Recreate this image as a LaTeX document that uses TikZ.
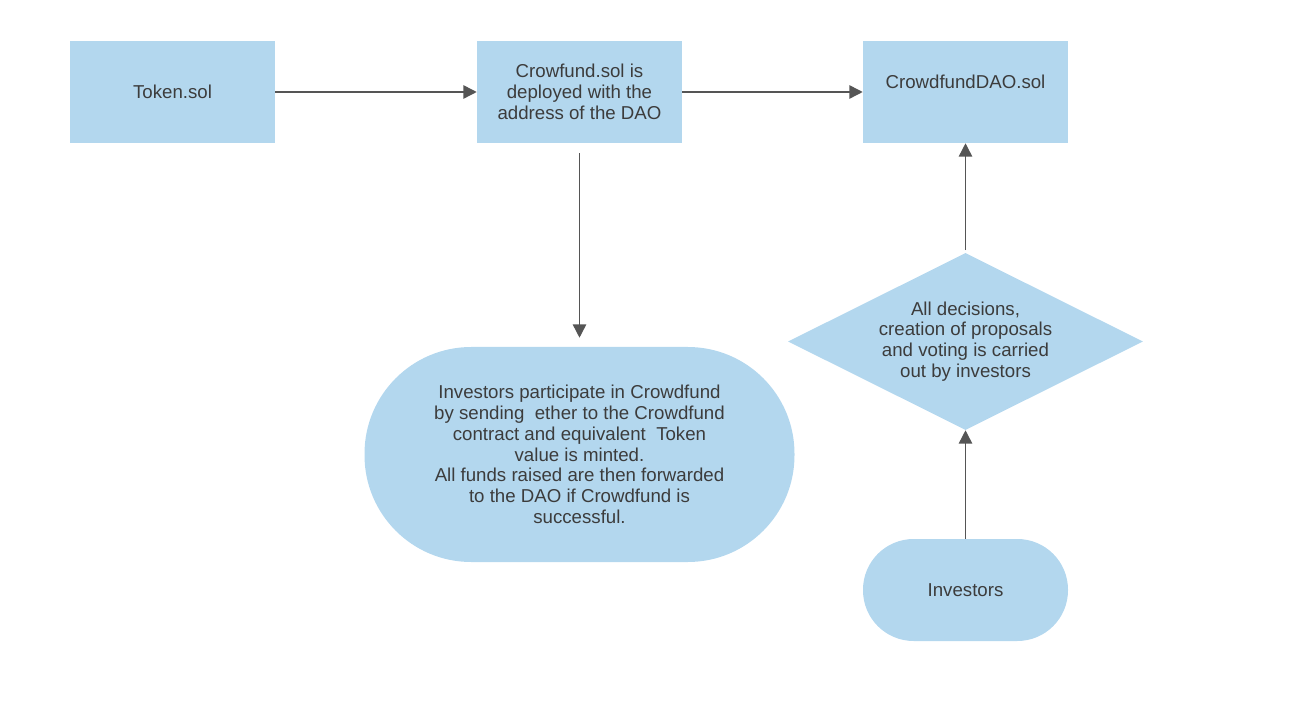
\documentclass[tikz,border=0pt]{standalone}
\usepackage{fontspec}
\setmainfont{Liberation Sans}
\usetikzlibrary{shapes.geometric,arrows.meta}
\definecolor{boxfill}{HTML}{B3D7EE}
\definecolor{txt}{HTML}{3C3C3C}
\definecolor{arr}{HTML}{555555}
\begin{document}
\begin{tikzpicture}[x=0.75pt,y=-0.75pt,
  every node/.style={font=\fontsize{14}{15.6}\selectfont, text=txt},
  box/.style={rectangle, fill=boxfill, minimum width=153.75pt, minimum height=76.5pt, inner sep=0pt, align=center},
  pill/.style={rectangle, fill=boxfill, align=center, inner sep=0pt},
  conn/.style={draw=arr, line width=1.1pt, -{Triangle[length=10pt,width=10pt]}}]
\useasboundingbox (0,0) rectangle (1293,709);
\node[box] (tok) at (172.5,92) {Token.sol};
\node[box] (crow) at (579.5,92) {Crowfund.sol is\\deployed with the\\address of the DAO};
\node[box] (dao) at (965.5,92) {CrowdfundDAO.sol\\~};
\node[pill, minimum width=322.5pt, minimum height=161.25pt, rounded corners=80pt] (inv) at (579.5,454.5)
  {Investors participate in Crowdfund\\by sending\ \ ether to the Crowdfund\\contract and equivalent\ \ Token\\value is minted.\\All funds raised are then forwarded\\to the DAO if Crowdfund is\\successful.};
\node[diamond, fill=boxfill, minimum width=266.25pt, minimum height=132.75pt, inner sep=0pt] (dec) at (965.5,341.5) {};
\node[align=center, inner sep=0pt] (dect) at (dec.center) {All decisions,\\creation of proposals\\and voting is carried\\out by investors};
\node[pill, minimum width=153.75pt, minimum height=76.5pt, rounded corners=38pt] (investors) at (965.5,590) {Investors};
\draw[conn] (tok) -- (crow);
\draw[conn] (crow) -- (dao);
\draw[conn, shorten <=7.5pt, shorten >=6.75pt] (crow.south) -- (inv.north);
\draw[conn, shorten <=2pt] (dec.north) -- (dao.south);
\draw[conn] (investors.north) -- (dec.south);
\end{tikzpicture}
\end{document}
